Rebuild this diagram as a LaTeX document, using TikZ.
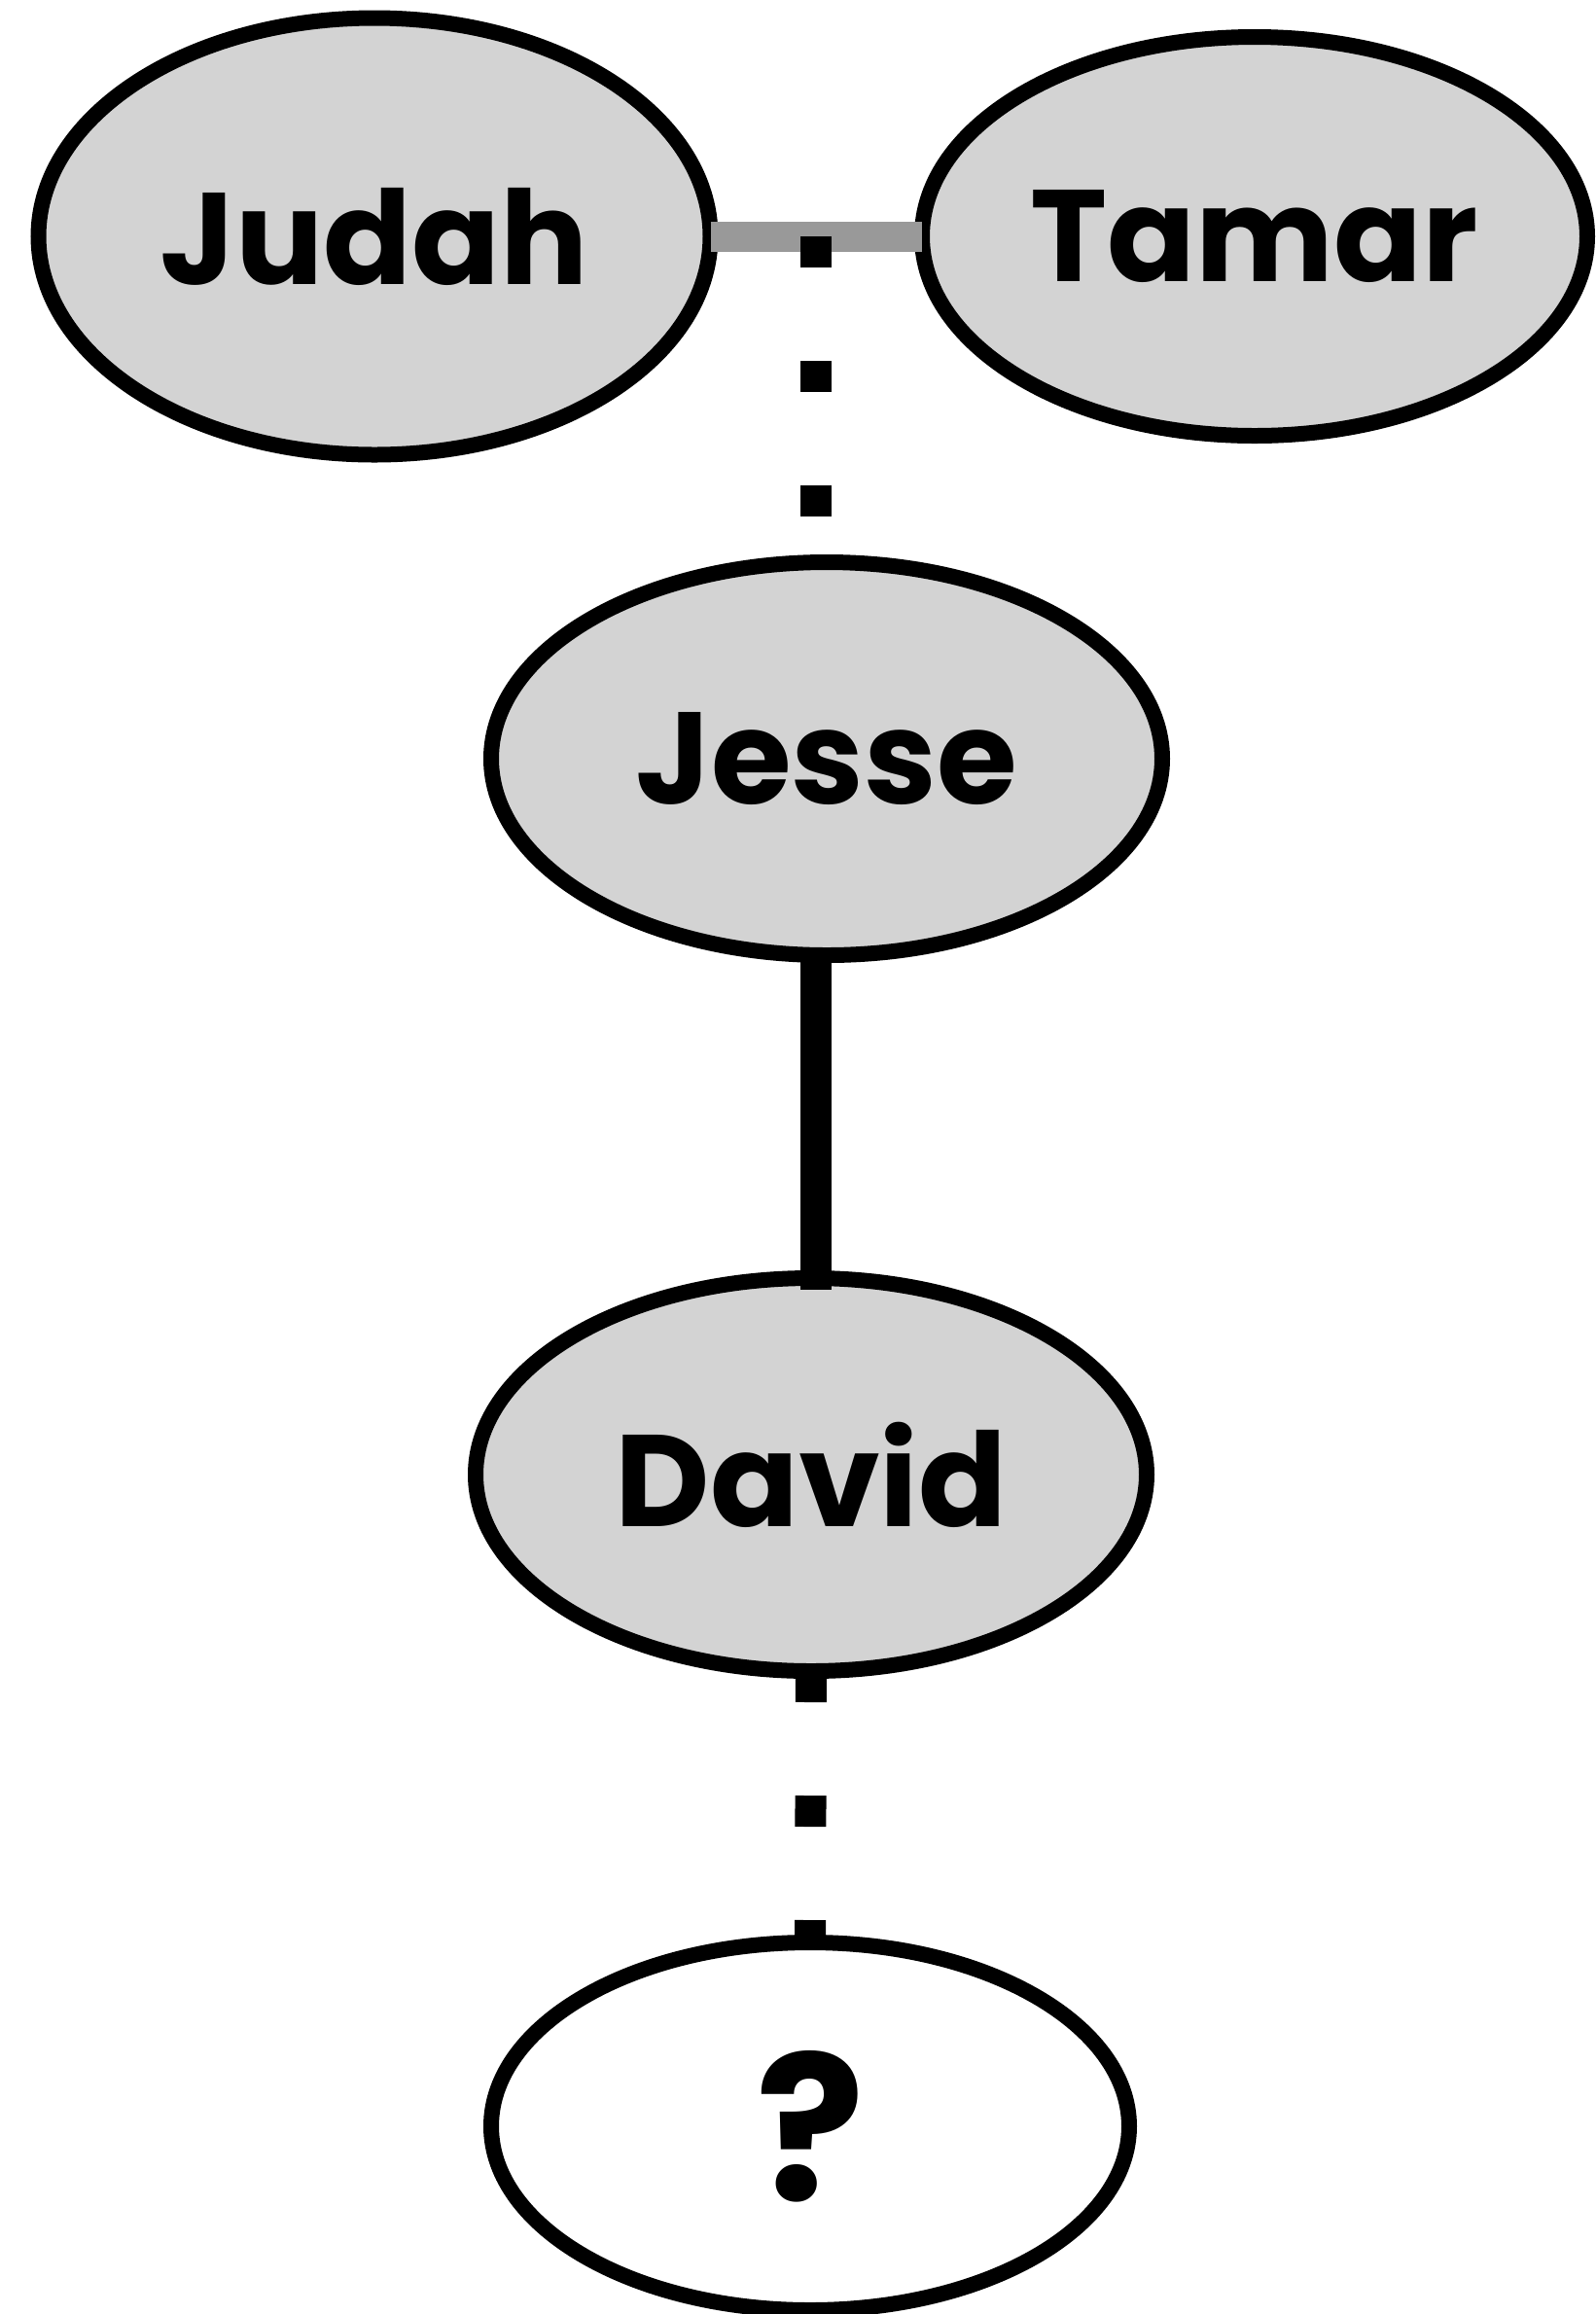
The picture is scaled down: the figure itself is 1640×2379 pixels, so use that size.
\documentclass[tikz,border=0pt]{standalone}
\usepackage{fontspec}
\setmainfont{Poppins}
\usepackage{tikz}
\usepackage{xcolor}
\usetikzlibrary{shapes.geometric,calc}
\definecolor{persongray}{HTML}{D3D3D3}
\definecolor{couplegray}{HTML}{999999}

\begin{document}
\begin{tikzpicture}[x=0.25pt,y=-0.25pt,
  person/.style={ellipse,draw=black,line width=4pt,fill=persongray,inner sep=0pt,outer sep=0pt,
    font=\fontsize{33.5}{40}\selectfont\bfseries},
  unknownperson/.style={person,fill=white,font=\fontsize{52}{60}\selectfont\bfseries},
  dotline/.style={line width=8pt,dash pattern=on 8pt off 24pt}]
  \useasboundingbox (0,0) rectangle (1640,2379);
  % people
  \node[person,minimum width=172.75pt,minimum height=112.25pt] (judah) at (385,243) {Judah};
  \node[person,minimum width=171pt,minimum height=102.5pt] (tamar) at (1290,243) {Tamar};
  \node[person,minimum width=172.5pt,minimum height=101pt] (jesse) at (850,780) {Jesse};
  \node[person,minimum width=172.5pt,minimum height=101pt] (david) at (834,1516) {David};
  \node[unknownperson,minimum width=164pt,minimum height=94.5pt] (unknown) at (833,2186) {?};
  % links
  \coordinate (m) at ($(judah.east)!0.5!(tamar.west)$);
  \draw[couplegray,line width=7.75pt] (judah.east) -- (tamar.west);
  \draw[dotline] (m) -- (m |- jesse.north);
  \draw[line width=8pt,shorten >=-3pt] (m |- jesse.south) -- (m |- david.north);
  \draw[dotline] (david.south) -- (unknown.north);
\end{tikzpicture}
\end{document}
